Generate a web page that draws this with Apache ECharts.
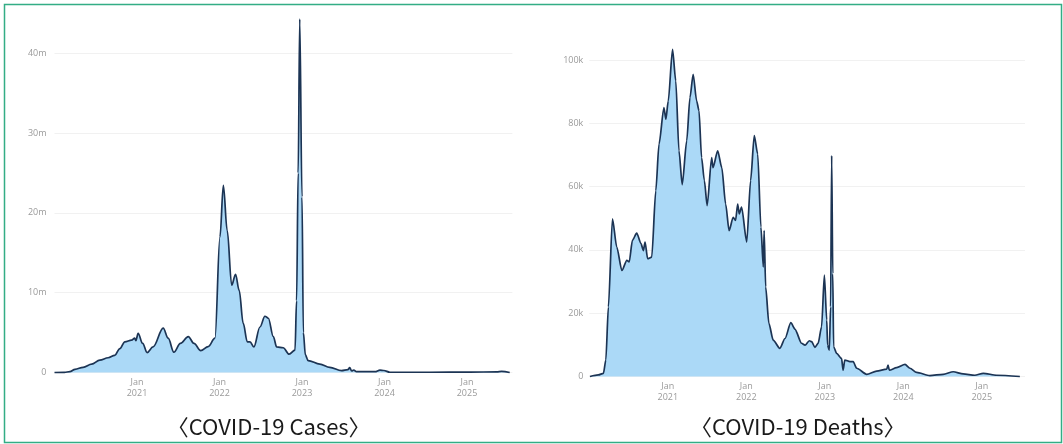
<!DOCTYPE html>
<html><head><meta charset="utf-8">
<script src="https://cdn.jsdelivr.net/npm/echarts@6/dist/echarts.min.js"></script>
<style>html,body{margin:0;padding:0;background:#fff}#c{width:1063px;height:444px}</style>
</head><body><div id="c"></div>
<script>
// Weekly COVID-19 cases (millions)
const caseDates = ['2020-01-01','2020-02-14','2020-03-09','2020-04-01','2020-05-07','2020-06-14','2020-07-20','2020-08-26','2020-09-24','2020-10-17','2020-11-08','2020-12-08','2020-12-22','2020-12-27','2021-01-06','2021-01-26','2021-02-15','2021-03-13','2021-04-27','2021-05-19','2021-06-13','2021-07-12','2021-08-16','2021-09-10','2021-10-10','2021-11-12','2021-12-12','2022-01-03','2022-01-18','2022-02-04','2022-02-24','2022-03-13','2022-03-29','2022-04-16','2022-05-04','2022-05-16','2022-06-02','2022-06-29','2022-07-21','2022-08-05','2022-08-27','2022-09-11','2022-10-10','2022-11-05','2022-12-01','2022-12-08','2022-12-15','2022-12-22','2023-01-01','2023-01-07','2023-01-16','2023-01-28','2023-03-21','2023-05-04','2023-06-25','2023-07-23','2023-07-31','2023-08-09','2023-08-18','2023-08-30','2023-11-20','2023-12-12','2023-12-29','2024-01-25','2024-07-20','2025-01-14','2025-05-13','2025-06-03','2025-07-09'];
const caseValues = [0,0.02,0.1,0.4,0.65,1.05,1.55,1.85,2.15,3.0,3.85,4.05,4.3,4.0,4.9,3.65,2.5,3.2,5.55,4.3,2.55,3.65,4.5,3.65,2.75,3.25,4.3,17,23.45,17.8,10.95,12.3,10.3,6.15,3.85,3.85,3.2,5.7,7.05,6.8,4.5,3.2,3.1,2.3,2.8,9,25,44.3,22,5,2.2,1.5,1.06,0.65,0.23,0.35,0.6,0.2,0.3,0.1,0.1,0.3,0.25,0.03,0.03,0.05,0.08,0.15,0];

// Weekly COVID-19 deaths (thousands)
const deathDates = ['2020-01-04','2020-02-12','2020-03-07','2020-03-18','2020-03-30','2020-04-18','2020-05-08','2020-06-01','2020-06-24','2020-07-05','2020-07-20','2020-08-09','2020-08-29','2020-09-09','2020-09-17','2020-09-29','2020-10-18','2020-11-06','2020-11-21','2020-12-14','2020-12-23','2021-01-03','2021-01-23','2021-02-07','2021-02-22','2021-03-09','2021-03-30','2021-04-14','2021-04-29','2021-05-15','2021-05-26','2021-06-07','2021-06-20','2021-07-03','2021-07-24','2021-07-30','2021-08-21','2021-09-09','2021-09-27','2021-10-13','2021-11-01','2021-11-12','2021-11-22','2021-11-29','2021-12-10','2022-01-03','2022-01-21','2022-02-07','2022-02-23','2022-03-10','2022-03-21','2022-03-25','2022-04-01','2022-04-16','2022-05-06','2022-06-06','2022-06-30','2022-07-27','2022-08-15','2022-09-15','2022-10-01','2022-10-21','2022-11-01','2022-11-16','2022-12-01','2022-12-17','2022-12-30','2023-01-10','2023-01-14','2023-01-22','2023-01-28','2023-02-02','2023-02-07','2023-02-11','2023-02-25','2023-03-20','2023-03-27','2023-04-04','2023-04-28','2023-05-13','2023-05-29','2023-07-15','2023-08-30','2023-10-16','2023-10-22','2023-10-28','2023-12-01','2024-01-09','2024-02-01','2024-03-03','2024-05-04','2024-07-05','2024-08-21','2024-10-06','2024-11-29','2025-01-08','2025-03-10','2025-06-27'];
const deathValues = [0,0.5,1,5.2,22,49.8,40.9,33.5,36.7,36.2,43,45.3,42,39.8,42.5,37.2,37.7,58.7,73.4,85,81.3,87,103.4,93.4,71.3,60.6,74.5,88.1,95.5,87.1,84,69.2,61.9,54,69.2,66,71.3,66,54.5,46.1,50.3,49.3,54.5,51.4,53.5,42.5,61.9,76.1,70.3,47.2,34.6,46.1,28.3,16.8,11.5,8.9,12,17,15,10.5,9.9,11.3,11,9.2,10.5,15.7,32,17.8,9.9,8.3,22,69.8,32.5,9.4,7.3,5.7,2,5.2,4.7,4.7,2.6,0.7,1.7,2.3,3.6,2,2.8,3.8,2.6,1.3,0.3,0.7,1.5,0.8,0.4,1.0,0.4,0];

const yearTicks = [2021, 2022, 2023, 2024, 2025];
const captions = ['〈COVID-19 Cases〉', '〈COVID-19 Deaths〉'];

function toYear(s) {
  const p = s.split('-').map(Number);
  const t = Date.UTC(p[0], p[1] - 1, p[2]), a = Date.UTC(p[0], 0, 1), b = Date.UTC(p[0] + 1, 0, 1);
  return p[0] + (t - a) / (b - a);
}
const casePairs = caseDates.map((d, i) => [toYear(d), caseValues[i]]);
const deathPairs = deathDates.map((d, i) => [toYear(d), deathValues[i]]);

const chart = echarts.init(document.getElementById('c'), null, {renderer: 'canvas'});
const XMIN = 2020, XMAX = 2025.55;
const labelFont = {fontFamily: 'Open Sans', fontSize: 9, color: '#9a9a9a'};
function xAx(gi) {
  return {
    type: 'value', gridIndex: gi, min: XMIN, max: XMAX, interval: 1,
    axisLine: {show: false}, axisTick: {show: false}, splitLine: {show: false},
    axisLabel: Object.assign({
      margin: 4, lineHeight: 11,
      formatter: v => (yearTicks.indexOf(v) >= 0 ? 'Jan\n' + v : '')
    }, labelFont)
  };
}
function yAx(gi, max, interval, unit, margin) {
  return {
    type: 'value', gridIndex: gi, min: 0, max: max, interval: interval,
    axisLine: {show: false}, axisTick: {show: false},
    splitLine: {show: true, lineStyle: {color: '#f1f1f1', width: 1}},
    axisLabel: Object.assign({margin: margin, formatter: v => (v === 0 ? '0' : v + unit)}, labelFont)
  };
}
const seriesStyle = {
  type: 'line', showSymbol: false, clip: false, smoothMonotone: 'x',
  lineStyle: {color: '#1c3454', width: 1.7},
  areaStyle: {color: '#abd9f7', opacity: 1},
  itemStyle: {color: '#1c3454'}
};
chart.setOption({
  backgroundColor: '#ffffff',
  animation: false,
  grid: [
    {left: 54.5, top: 53.3, width: 82.5 * (XMAX - XMIN), height: 319.2},
    {left: 589.3, top: 60, width: 78.5 * (XMAX - XMIN), height: 316.5}
  ],
  xAxis: [xAx(0), xAx(1)],
  yAxis: [yAx(0, 40, 10, 'm', 8), yAx(1, 100, 20, 'k', 6)],
  series: [
    Object.assign({}, seriesStyle, {xAxisIndex: 0, yAxisIndex: 0, smooth: 0.35, data: casePairs}),
    Object.assign({}, seriesStyle, {xAxisIndex: 1, yAxisIndex: 1, smooth: 0.25, data: deathPairs})
  ],
  graphic: [
    {type: 'rect', silent: true, shape: {x: 4.5, y: 4.5, width: 1057, height: 438},
     style: {fill: null, stroke: '#33ad85', lineWidth: 1.5}},
    {type: 'text', x: 268.7, y: 427, style: {text: captions[0], font: '22px "Noto Sans CJK KR"', fill: '#1a1a1a', textAlign: 'center', textVerticalAlign: 'middle'}},
    {type: 'text', x: 797.8, y: 427, style: {text: captions[1], font: '22px "Noto Sans CJK KR"', fill: '#1a1a1a', textAlign: 'center', textVerticalAlign: 'middle'}}
  ]
});
</script>
</body></html>
